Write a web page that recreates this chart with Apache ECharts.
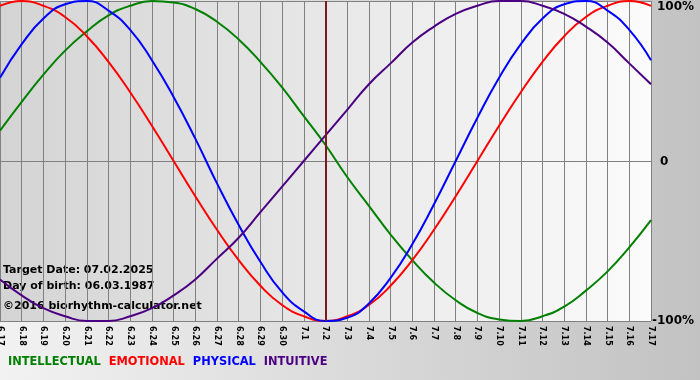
<!DOCTYPE html>
<html><head><meta charset="utf-8">
<script src="https://cdn.jsdelivr.net/npm/echarts@6/dist/echarts.min.js"></script>
<style>html,body{margin:0;padding:0;}#c{width:700px;height:380px;}</style>
</head><body><div id="c"></div>
<script>
const days = ['6.17','6.18','6.19','6.20','6.21','6.22','6.23','6.24','6.25','6.26','6.27','6.28','6.29','6.30','7.1','7.2','7.3','7.4','7.5','7.6','7.7','7.8','7.9','7.10','7.11','7.12','7.13','7.14','7.15','7.16','7.17'];
const intellectual = [0.19,0.37,0.54,0.69,0.81,0.91,0.97,1.00,0.99,0.95,0.87,0.76,0.62,0.46,0.28,0.10,-0.10,-0.28,-0.46,-0.62,-0.76,-0.87,-0.95,-0.99,-1.00,-0.97,-0.91,-0.81,-0.69,-0.54,-0.37];
const emotional = [0.97,1.00,0.97,0.90,0.78,0.62,0.43,0.22,0,-0.22,-0.43,-0.62,-0.78,-0.90,-0.97,-1.00,-0.97,-0.90,-0.78,-0.62,-0.43,-0.22,0,0.22,0.43,0.62,0.78,0.90,0.97,1.00,0.97];
const physical = [0.52,0.73,0.89,0.98,1.00,0.94,0.82,0.63,0.40,0.14,-0.14,-0.40,-0.63,-0.82,-0.94,-1.00,-0.98,-0.89,-0.73,-0.52,-0.27,0,0.27,0.52,0.73,0.89,0.98,1.00,0.94,0.82,0.63];
const intuitive = [-0.74,-0.84,-0.92,-0.97,-1.00,-1.00,-0.97,-0.92,-0.84,-0.74,-0.61,-0.48,-0.32,-0.16,0,0.16,0.32,0.48,0.61,0.74,0.84,0.92,0.97,1.00,1.00,0.97,0.92,0.84,0.74,0.61,0.48];
const targetDay = '7.2';
const infoLines = ['Target Date: 07.02.2025','Day of birth: 06.03.1987','©2016 biorhythm-calculator.net'];
const seriesNames = ['INTELLECTUAL','EMOTIONAL','PHYSICAL','INTUITIVE'];
const seriesColors = ['#008000','#ff0000','#0000ff','#4b0082'];
const seriesData = [intellectual, emotional, physical, intuitive];

const chart = echarts.init(document.getElementById('c'));
const font = 'DejaVu Sans, Verdana, sans-serif';
const yl = {fontFamily:font, fontWeight:'bold', fontSize:12, color:'#000'};
chart.setOption({
  animation: false,
  backgroundColor: {type:'linear',x:0,y:0,x2:1,y2:0,colorStops:[{offset:0,color:'#f2f2f2'},{offset:1,color:'#c2c2c2'}]},
  grid: {left:0, top:1, width:651, height:320, show:true, borderWidth:0, containLabel:false, outerBoundsMode:'none',
    backgroundColor:{type:'linear',x:0,y:0,x2:1,y2:0,colorStops:[{offset:0,color:'#d4d4d4'},{offset:1,color:'#fbfbfb'}]}},
  legend: {
    left: 3, top: 357, icon: 'none', itemWidth: 0, itemHeight: 0, itemGap: 3, padding: 0,
    selectedMode: false,
    data: seriesNames.map((n,i)=>({name:n, textStyle:{color:seriesColors[i]}})),
    textStyle: {fontFamily: font, fontWeight:'bold', fontSize: 11.4, padding:0}
  },
  xAxis: {
    type:'category', data: days, boundaryGap:false,
    axisLine:{show:false},
    axisTick:{show:true, length:4, lineStyle:{color:'#808080'}},
    splitLine:{show:true, lineStyle:{color:'#808080', width:1}},
    axisLabel:{rotate:-90, interval:0, margin:5, color:'#000', fontFamily:font, fontWeight:'bold', fontSize:8}
  },
  yAxis: {
    type:'value', min:-1, max:1, interval:1, position:'right',
    axisLine:{show:false}, axisTick:{show:false},
    splitLine:{show:true, lineStyle:{color:'#808080', width:1}},
    axisLabel:{margin:1, color:'#000', fontFamily:font, fontWeight:'bold', fontSize:12,
      formatter: v => v===1 ? '{t|100%}' : v===0 ? '{z|0}' : '{b|-100%}',
      rich:{
        t:Object.assign({padding:[12,0,0,5]}, yl),
        z:Object.assign({padding:[2,0,0,8]}, yl),
        b:Object.assign({padding:[0,0,0,0]}, yl)
      }}
  },
  graphic: infoLines.map((t,i)=>({type:'text', left:3, top:[265,281,301][i],
    style:{text:t, fill:'#000', font:'bold 11px '+font}})),
  series: seriesData.map((d,i)=>({
    name: seriesNames[i], type:'line', data:d, smooth:true, symbol:'none',
    lineStyle:{color:seriesColors[i], width:2}, itemStyle:{color:seriesColors[i]},
    markLine: i===0 ? {silent:true, symbol:'none', label:{show:false},
      lineStyle:{color:'#7a1a1a', width:2, type:'solid'}, data:[{xAxis:targetDay}]} : undefined
  }))
});
</script></body></html>
